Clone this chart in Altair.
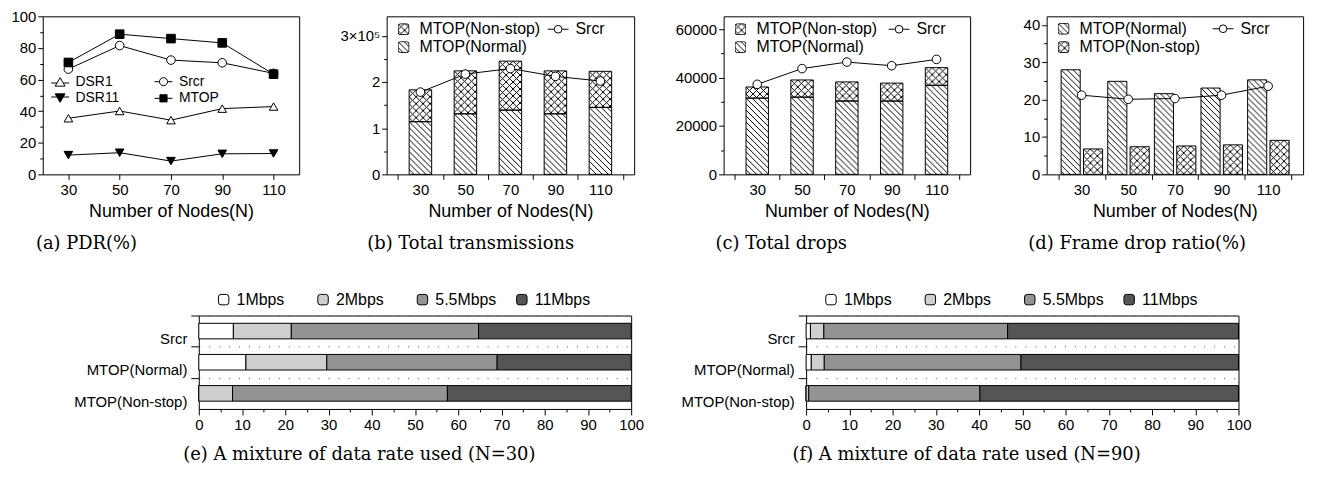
import altair as alt
import pandas as pd
from urllib.parse import quote

FONT = "Liberation Sans"
SERIF = "DejaVu Serif"

# ---------------- data ----------------
nodes = [30, 50, 70, 90, 110]
node_ticks = [20, 40, 60, 80, 100, 120]

series_a = ["DSR1", "Srcr", "DSR11", "MTOP"]
pdr_dsr1 = [35.5, 40.1, 34.3, 41.6, 42.9]
pdr_srcr = [66.6, 81.5, 72.3, 70.6, 63.9]
pdr_dsr11 = [12.2, 13.7, 8.4, 13.0, 13.2]
pdr_mtop = [70.8, 88.7, 85.9, 83.2, 63.4]

tx_normal = [114000, 131000, 139000, 131000, 145000]
tx_nonstop = [69000, 93000, 106000, 93000, 78000]
tx_srcr = [178000, 217000, 229000, 212000, 202000]

drop_normal = [31500, 31900, 30300, 30300, 36800]
drop_nonstop = [4600, 7100, 7900, 7400, 7300]
drop_srcr = [37200, 43700, 46400, 44900, 47500]

fdr_normal = [28.0, 24.9, 21.6, 23.1, 25.3]
fdr_nonstop = [6.8, 7.4, 7.6, 7.9, 9.1]
fdr_srcr = [21.2, 20.1, 20.3, 21.2, 23.6]

name_normal = "MTOP(Normal)"
name_nonstop = "MTOP(Non-stop)"
name_srcr = "Srcr"

rates = ["1Mbps", "2Mbps", "5.5Mbps", "11Mbps"]
rate_colors = ["#ffffff", "#cfcfd1", "#929395", "#545557"]
mix_series = ["Srcr", "MTOP(Normal)", "MTOP(Non-stop)"]
mix30_1 = [8.0, 10.9, 0.0]
mix30_2 = [13.4, 18.7, 7.8]
mix30_55 = [43.3, 39.4, 49.7]
mix30_11 = [35.3, 31.0, 42.5]
mix90_1 = [1.0, 1.2, 0.0]
mix90_2 = [3.1, 3.0, 0.6]
mix90_55 = [42.5, 45.5, 39.6]
mix90_11 = [53.4, 50.3, 59.8]

# ---------------- helpers ----------------
def ax(**kw):
    base = dict(labelFont=FONT, labelFontSize=15, labelColor="black",
                titleFont=FONT, titleFontSize=18, titleFontWeight="normal",
                titleColor="black", tickColor="black", tickWidth=1,
                domain=False, grid=False, labelFlush=False, labelOverlap=False)
    base.update(kw)
    return alt.Axis(**base)


def tsize(test, major, minor):
    return {"condition": {"test": test, "value": major}, "value": minor}


def cap(text, dx, offset):
    return alt.TitleParams(text=text, orient="bottom", anchor="middle", frame="group",
                           dx=dx, offset=offset, font=SERIF, fontSize=18,
                           fontWeight="normal", color="black")


def pattern_def(kind):
    if kind == "diag":
        t = 6
        d = "M-2,-2L8,8M-2,4L2,8M4,-2L8,2"
    else:
        t = 7
        d = "M-2,-2L9,9M5,-2L9,2M-2,5L2,9M9,-2L-2,9M-2,2L2,-2M5,9L9,5"
    return (f"<defs><pattern id='p' width='{t}' height='{t}' patternUnits='userSpaceOnUse'>"
            f"<path d='{d}' stroke='black' stroke-width='1' fill='none'/></pattern></defs>")


def fill_uri(kind):
    svg = ("<svg xmlns='http://www.w3.org/2000/svg' width='100%' height='100%'>"
           + pattern_def(kind)
           + "<rect x='0' y='0' width='100%' height='100%' fill='white'/>"
           + "<rect x='0' y='0' width='100%' height='100%' fill='url(#p)'/></svg>")
    return "data:image/svg+xml;charset=utf-8," + quote(svg)


def icon_uri(kind):
    svg = ("<svg xmlns='http://www.w3.org/2000/svg' width='12' height='12'>"
           + pattern_def(kind)
           + "<rect x='0.5' y='0.5' width='11' height='11' rx='2.5' fill='white'/>"
           + "<rect x='0.5' y='0.5' width='11' height='11' rx='2.5' fill='url(#p)' stroke='black' stroke-width='1'/></svg>")
    return "data:image/svg+xml;charset=utf-8," + quote(svg)


URI_DIAG = fill_uri("diag")
URI_CROSS = fill_uri("cross")
ICON_DIAG = icon_uri("diag")
ICON_CROSS = icon_uri("cross")

ONE = pd.DataFrame({"z": [0]})


def spacer(w):
    return (alt.Chart(ONE).mark_point(opacity=0)
            .encode(x=alt.value(0), y=alt.value(0))
            .properties(width=w, height=10, view=alt.ViewBackground(strokeOpacity=0, strokeWidth=0)))


# ---------------- (a) PDR ----------------
df_a = pd.DataFrame({
    "N": nodes * 4,
    "v": pdr_dsr1 + pdr_srcr + pdr_dsr11 + pdr_mtop,
    "s": sum([[s] * len(nodes) for s in series_a], []),
})
xa = alt.X("N:Q", scale=alt.Scale(domain=[20, 120], nice=False, zero=False),
           axis=ax(values=nodes, title="Number of Nodes(N)", tickSize=5,
                   labelPadding=3, titlePadding=5))
ya = alt.Y("v:Q", scale=alt.Scale(domain=[0, 100], nice=False),
           axis=ax(values=list(range(0, 101, 10)), title=None,
                   labelExpr="datum.value % 20 == 0 ? datum.label : ''",
                   tickSize=tsize("datum.value % 20 == 0", 5, 3), labelPadding=2))

lines_a = alt.Chart(df_a).mark_line(color="black", strokeWidth=1).encode(x=xa, y=ya, detail="s:N")
pts_a = alt.Chart(df_a).mark_point(filled=True, stroke="black", strokeWidth=1, opacity=1, size=75).encode(
    x=xa, y=ya,
    shape=alt.Shape("s:N", scale=alt.Scale(domain=series_a,
                    range=["triangle-up", "circle", "triangle-down", "square"]), legend=None),
    fill=alt.Fill("s:N", scale=alt.Scale(domain=series_a, range=["white", "white", "black", "black"]),
                  legend=None),
)
sym_paths = [
    "M-1,0.15L-0.35,0.15M0.35,0.15L1,0.15M0,-0.45L0.55,0.5L-0.55,0.5Z",
    "M-1,0L-0.45,0M0.45,0L1,0M-0.45,0A0.45 0.45 0 1 0 0.45,0A0.45 0.45 0 1 0 -0.45,0Z",
    "M-1,-0.15L-0.35,-0.15M0.35,-0.15L1,-0.15M0,0.45L0.55,-0.5L-0.55,-0.5Z",
    "M-1,0L-0.4,0M0.4,0L1,0M-0.4,-0.4L0.4,-0.4L0.4,0.4L-0.4,0.4Z",
]
leg_a_def = alt.Legend(title=None, orient="none", legendX=8, legendY=56, columns=2,
                       direction="horizontal",
                       columnPadding=32, rowPadding=0, symbolSize=324, symbolStrokeWidth=1,
                       symbolStrokeColor="black", labelFont=FONT, labelFontSize=14,
                       labelColor="black", labelOffset=6, padding=0)
leg_a = alt.Chart(df_a).transform_filter("datum.N < 0").mark_point(
    filled=True, stroke="black", strokeWidth=1, opacity=1).encode(
    shape=alt.Shape("s:N", scale=alt.Scale(domain=series_a, range=sym_paths), legend=leg_a_def),
    fill=alt.Fill("s:N", scale=alt.Scale(domain=series_a, range=["white", "white", "black", "black"]),
                  legend=leg_a_def),
    stroke=alt.Stroke("s:N", scale=alt.Scale(domain=series_a, range=["black"] * 4),
                      legend=leg_a_def),
)
panel_a = (alt.layer(lines_a, pts_a, leg_a)
           .resolve_scale(shape="independent", fill="independent", stroke="independent")
           .properties(width=258, height=159, title=cap("(a) PDR(%)", -85, 15)))


# ---------------- bar panels ----------------
def bar_legend(rows, sx):
    layers = []
    for icon, label, yc in rows:
        layers.append(alt.Chart(ONE).mark_image(aspect=False).encode(
            x=alt.value(11), x2=alt.value(23), y=alt.value(yc - 6), y2=alt.value(yc + 6),
            url=alt.value(icon)))
        layers.append(alt.Chart(pd.DataFrame({"t": [label]})).mark_text(
            align="left", baseline="middle", font=FONT, fontSize=16, color="black").encode(
            x=alt.value(33), y=alt.value(yc), text="t:N"))
    yc = rows[0][2]
    layers.append(alt.Chart(ONE).mark_rule(color="black", strokeWidth=1).encode(
        x=alt.value(sx), x2=alt.value(sx + 21), y=alt.value(yc)))
    layers.append(alt.Chart(ONE).mark_point(shape="circle", filled=True, fill="white", stroke="black",
                                             strokeWidth=1, size=60, opacity=1).encode(
        x=alt.value(sx + 10.5), y=alt.value(yc)))
    layers.append(alt.Chart(pd.DataFrame({"t": [name_srcr]})).mark_text(
        align="left", baseline="middle", font=FONT, fontSize=16, color="black").encode(
        x=alt.value(sx + 28), y=alt.value(yc), text="t:N"))
    return layers


def bar_panel(normal, nonstop, srcr, width, ymax, ystep, major, label_expr, fmt,
              grouped, legend_rows, sx, caption, dx):
    df = pd.DataFrame({"N": nodes, "normal": normal, "nonstop": nonstop, "srcr": srcr})
    half = width / 110.0 * 10.0
    xscale = alt.Scale(domain=[15, 125], nice=False, zero=False)
    xaxis = ax(values=node_ticks, title="Number of Nodes(N)", tickSize=5, labelPadding=3,
               titlePadding=5, labelOffset=half,
               labelExpr="datum.value >= 120 ? '' : format(datum.value + 10, 'd')")
    yvals = []
    v = 0.0
    while v <= ymax + 1e-9:
        yvals.append(round(v, 6))
        v += ystep
    yscale = alt.Scale(domain=[0, ymax], nice=False)
    yaxis = ax(values=yvals, title=None, labelExpr=label_expr, format=fmt,
               tickSize=tsize(f"datum.value % {major} == 0", 5, 3), labelPadding=2)

    def X(f):
        return alt.X(f, scale=xscale, axis=xaxis)

    def Y(f):
        return alt.Y(f, scale=yscale, axis=yaxis)

    if grouped:
        base = alt.Chart(df).transform_calculate(
            zero="0", a0="datum.N - 8.8", a1="datum.N - 0.6", b0="datum.N + 0.8", b1="datum.N + 9.0")
        parts = [("a0:Q", "a1:Q", "zero:Q", "normal:Q", URI_DIAG),
                 ("b0:Q", "b1:Q", "zero:Q", "nonstop:Q", URI_CROSS)]
    else:
        base = alt.Chart(df).transform_calculate(
            zero="0", top="datum.normal + datum.nonstop", a0="datum.N - 5", a1="datum.N + 5")
        parts = [("a0:Q", "a1:Q", "zero:Q", "normal:Q", URI_DIAG),
                 ("a0:Q", "a1:Q", "normal:Q", "top:Q", URI_CROSS)]
    layers = []
    for x0, x1, y0, y1, uri in parts:
        layers.append(base.mark_image(aspect=False).encode(
            x=X(x0), x2=x1, y=Y(y0), y2=y1, url=alt.value(uri)))
    for x0, x1, y0, y1, uri in parts:
        layers.append(base.mark_rect(fill="transparent", stroke="black", strokeWidth=1).encode(
            x=X(x0), x2=x1, y=Y(y0), y2=y1))
    layers.append(alt.Chart(df).mark_line(color="black", strokeWidth=1).encode(x=X("N:Q"), y=Y("srcr:Q")))
    layers.append(alt.Chart(df).mark_point(shape="circle", filled=True, fill="white", stroke="black",
                                           strokeWidth=1, size=75, opacity=1).encode(
        x=X("N:Q"), y=Y("srcr:Q")))
    layers += bar_legend(legend_rows, sx)
    return alt.layer(*layers).properties(width=width, height=159, title=cap(caption, dx, 15))


panel_b = bar_panel(tx_normal, tx_nonstop, tx_srcr, 249, 342000, 50000, 100000,
                    "datum.value == 300000 ? '3\u00d710\u2075' : (datum.value % 100000 == 0 ? format(datum.value / 100000, 'd') : '')",
                    "d", False,
                    [(ICON_CROSS, name_nonstop, 13), (ICON_DIAG, name_normal, 31)], 162,
                    "(b) Total transmissions", -40)
panel_c = bar_panel(drop_normal, drop_nonstop, drop_srcr, 248, 65300, 10000, 20000,
                    "datum.value % 20000 == 0 ? datum.label : ''", "d", False,
                    [(ICON_CROSS, name_nonstop, 13), (ICON_DIAG, name_normal, 31)], 166,
                    "(c) Total drops", -66)
panel_d = bar_panel(fdr_normal, fdr_nonstop, fdr_srcr, 258, 42.3, 5, 10,
                    "datum.value % 10 == 0 ? datum.label : ''", "d", True,
                    [(ICON_DIAG, name_normal, 12.5), (ICON_CROSS, name_nonstop, 31)], 167,
                    "(d) Frame drop ratio(%)", -38)


# ---------------- (e), (f) mixtures ----------------
def mix_panel(cols, caption):
    rows = []
    for j, r in enumerate(rates):
        for i, s in enumerate(mix_series):
            rows.append({"s": s, "r": r, "o": j, "v": cols[j][i]})
    df = pd.DataFrame(rows)
    step = 94 / 3.0
    leg = alt.Legend(title=None, orient="none", legendX=17, legendY=-24, direction="horizontal",
                     columns=4, gridAlign="all", columnPadding=17,
                     symbolType="M-1,-0.5Q-1,-1,-0.5,-1L0.5,-1Q1,-1,1,-0.5L1,0.5Q1,1,0.5,1L-0.5,1Q-1,1,-1,0.5Z",
                     symbolSize=110, symbolStrokeColor="black", symbolStrokeWidth=1,
                     labelFont=FONT, labelFontSize=16, labelColor="black", labelOffset=5, padding=0)
    return alt.Chart(df).mark_bar(stroke="black", strokeWidth=1, opacity=1).encode(
        y=alt.Y("s:N", sort=mix_series,
                scale=alt.Scale(domain=mix_series, paddingInner=0.5, paddingOuter=0.25),
                axis=ax(title=None, bandPosition=0, tickOffset=-step * 0.25, labelOffset=step * 0.5,
                        grid=True, gridDash=[1, 9], gridColor="#555555", gridWidth=1,
                        tickSize=8, labelPadding=4)),
        x=alt.X("v:Q", stack="zero", scale=alt.Scale(domain=[0, 100], nice=False),
                axis=ax(values=list(range(0, 101, 5)), title=None,
                        labelExpr="datum.value % 10 == 0 ? datum.label : ''",
                        tickSize=tsize("datum.value % 10 == 0", 6, 3), labelPadding=3)),
        fill=alt.Fill("r:N", scale=alt.Scale(domain=rates, range=rate_colors), legend=leg),
        order=alt.Order("o:Q"),
    ).properties(width=435, height=94, title=cap(caption, -56, 13))


panel_e = mix_panel([mix30_1, mix30_2, mix30_55, mix30_11], "(e) A mixture of data rate used (N=30)")
panel_f = mix_panel([mix90_1, mix90_2, mix90_55, mix90_11], "(f) A mixture of data rate used (N=90)")

RES = dict(fill="independent", shape="independent", stroke="independent")
row1 = alt.hconcat(panel_a, spacer(88), panel_b, spacer(90), panel_c, spacer(77), panel_d,
                   spacing=0, bounds="flush").resolve_scale(**RES)
row2 = alt.hconcat(spacer(157), panel_e, spacer(176), panel_f,
                   spacing=0, bounds="flush").resolve_scale(**RES)

chart = alt.vconcat(row1, row2, spacing=37).resolve_scale(**RES).properties(
    padding={"left": 10, "top": 7, "right": 4, "bottom": 4}
).configure_view(stroke="black", strokeWidth=1)

chart.save("out.html", embed_options={"renderer": "svg", "actions": False})
